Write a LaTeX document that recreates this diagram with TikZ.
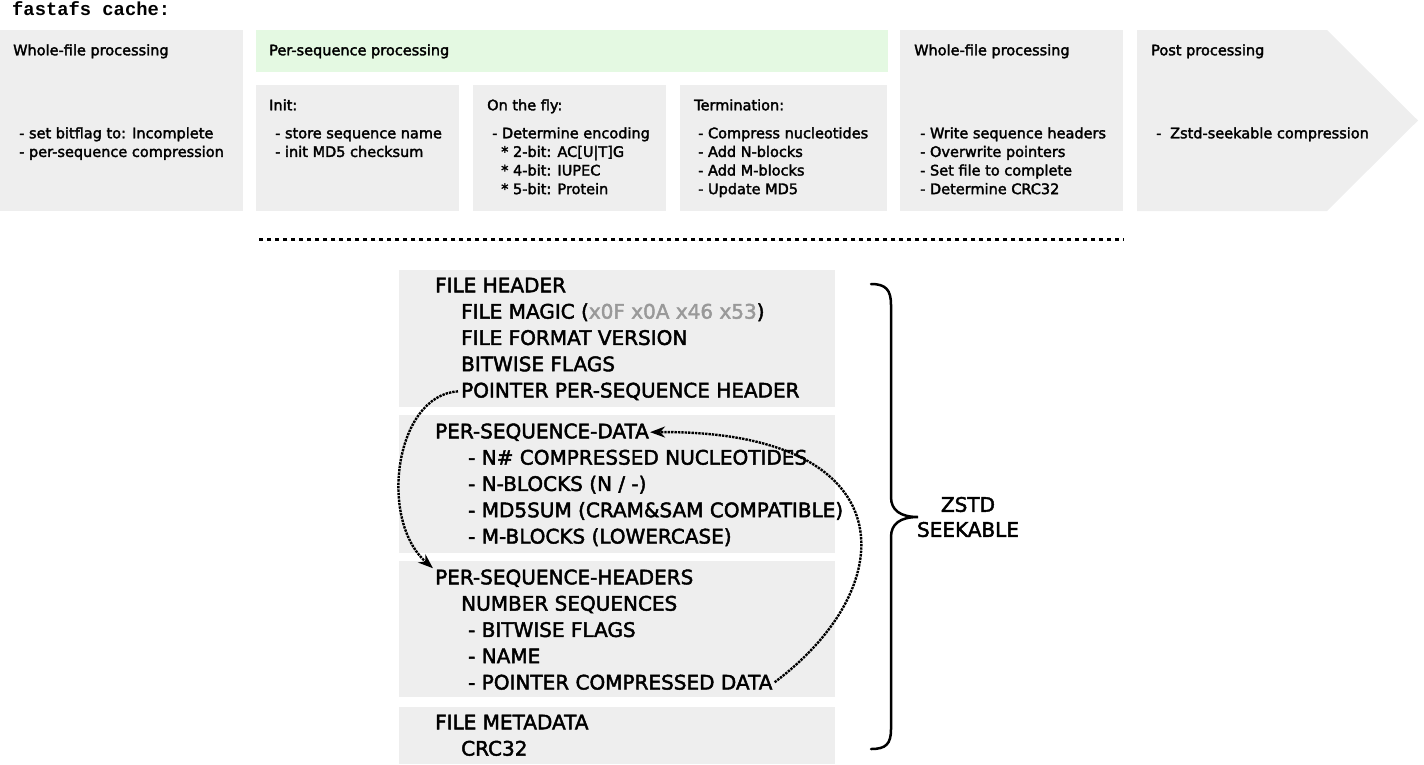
\documentclass[tikz,border=0pt]{standalone}
\usepackage{fontspec}
\setmainfont{DejaVu Sans}[RawFeature={embolden=2.2}]
\newfontfamily\monofont{Liberation Mono}
\usetikzlibrary{arrows.meta}
\definecolor{boxgray}{HTML}{EEEEEE}
\definecolor{boxgreen}{HTML}{E4F9E2}
\definecolor{hexgray}{HTML}{999999}
\begin{document}
\begin{tikzpicture}[x=1pt,y=-1pt,
  panel/.style={fill=boxgray,draw=none},
  small/.style={font=\fontsize{14.5}{18.6}\selectfont, anchor=base west, inner sep=0, align=left},
  big/.style={font=\fontsize{20}{26}\selectfont, anchor=base west, inner sep=0},
  ptr/.style={densely dotted, line width=2.4pt, -{Stealth[length=15pt,width=11pt]}}]
\useasboundingbox (0,0) rectangle (1424,764);

\node[font=\monofont\bfseries\fontsize{18.8}{20}\selectfont, anchor=base west, inner sep=0] (title) at (12,15) {fastafs cache:};

% top panels
\fill[boxgray] (0,30) rectangle (243,211);
\fill[boxgreen] (256,30) rectangle (888,72);
\fill[boxgray] (256,85) rectangle (459,211);
\fill[boxgray] (473,85) rectangle (666,211);
\fill[boxgray] (680,85) rectangle (887,211);
\fill[boxgray] (900,30) rectangle (1123,211);
\fill[boxgray] (1137,30) -- (1327,30) -- (1418,120.5) -- (1327,211) -- (1137,211) -- cycle;

% multi-line nodes: anchored at the baseline of their last line
\node[small] (t1) at (13,55.3) {Whole-file processing};
\node[small] (i1) at (19,156.9) {- set bitflag to: Incomplete\\- per-sequence compression};
\node[small] (t2) at (269,55.3) {Per-sequence processing};
\node[small] (t3) at (269,110.3) {Init:};
\node[small] (i3) at (275,156.9) {- store sequence name\\- init MD5 checksum};
\node[small] (t4) at (487,110.3) {On the fly:};
\node[small] (i4) at (492,194.1) {- Determine encoding\\\hspace*{9pt}* 2-bit: AC[U|T]G\\\hspace*{9pt}* 4-bit: IUPEC\\\hspace*{9pt}* 5-bit: Protein};
\node[small] (t5) at (694,110.3) {Termination:};
\node[small] (i5) at (698,194.1) {- Compress nucleotides\\- Add N-blocks\\- Add M-blocks\\- Update MD5};
\node[small] (t6) at (914,55.3) {Whole-file processing};
\node[small] (i6) at (920,194.1) {- Write sequence headers\\- Overwrite pointers\\- Set file to complete\\- Determine CRC32};
\node[small] (t7) at (1151,55.3) {Post processing};
\node[small] (i7) at (1156,138.3) {-\hspace*{0.6em}Zstd-seekable compression};

\draw[line width=3pt, dash pattern=on 4pt off 4pt] (259,239) -- (1124,239);

% file layout
\fill[boxgray] (399,270) rectangle (835,407);
\fill[boxgray] (399,415) rectangle (835,553);
\fill[boxgray] (399,561) rectangle (835,697);
\fill[boxgray] (399,707) rectangle (835,764);

\node[big] (fh) at (435,292.3) {FILE HEADER};
\node[big] (fm) at (461,318.6) {FILE MAGIC (\textcolor{hexgray}{x0F x0A x46 x53})};
\node[big] (ffv) at (461,344.9) {FILE FORMAT VERSION};
\node[big] (bf) at (461,371.2) {BITWISE FLAGS};
\node[big] (ptrhdr) at (461,397.5) {POINTER PER-SEQUENCE HEADER};

\node[big] (psd) at (435,438.3) {PER-SEQUENCE-DATA};
\node[big] (nc) at (468,464.6) {- N\# COMPRESSED NUCLEOTIDES};
\node[big] (nb) at (468,490.9) {- N-BLOCKS (N / -)};
\node[big] (md) at (468,517.2) {- MD5SUM (CRAM\&SAM COMPATIBLE)};
\node[big] (mb) at (468,543.5) {- M-BLOCKS (LOWERCASE)};

\node[big] (psh) at (435,584.3) {PER-SEQUENCE-HEADERS};
\node[big] (ns) at (461,610.6) {NUMBER SEQUENCES};
\node[big] (sbf) at (468,636.9) {- BITWISE FLAGS};
\node[big] (nm) at (468,663.2) {- NAME};
\node[big] (pcd) at (468,689.5) {- POINTER COMPRESSED DATA};

\node[big] (meta) at (435,729.3) {FILE METADATA};
\node[big] (crc) at (461,755.6) {CRC32};

% pointers
\draw[ptr] ([xshift=-3pt]ptrhdr.west) .. controls (395,395) and (378,520) .. ([xshift=-2pt,yshift=1pt]psh.north west);
\draw[ptr] ([xshift=2pt]pcd.east) .. controls (905,585) and (905,430) .. ([xshift=1pt]psd.east);

% brace
\draw[line width=2.5pt, line cap=round] (871,284) .. controls (886,284) and (891,290) .. (891,305) -- (891,497)
  .. controls (891,510) and (900,517) .. (918,517)
  .. controls (900,517) and (891,524) .. (891,537) -- (891,729)
  .. controls (891,744) and (886,749) .. (871,749);
\node[font=\fontsize{20}{25}\selectfont, align=center, inner sep=0] (zstd) at (968,517) {ZSTD\\SEEKABLE};
\end{tikzpicture}
\end{document}
